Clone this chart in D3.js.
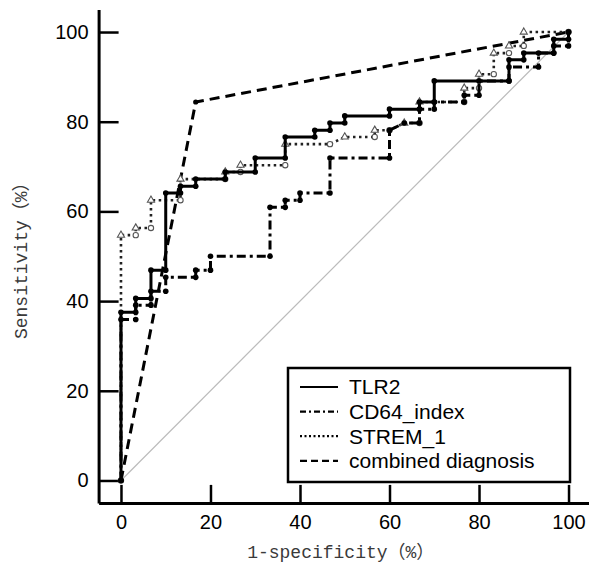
<!DOCTYPE html>
<html>
<head>
<meta charset="utf-8">
<script src="https://cdn.jsdelivr.net/npm/d3@7"></script>
<style>
  html, body { margin: 0; padding: 0; background: #fff; }
  svg { display: block; }
</style>
</head>
<body>
<svg id="chart" width="589" height="562"></svg>
<script>
// ---------- data (ROC curve vertices: [1-specificity %, sensitivity %]) ----------
const seriesNames = ["TLR2", "CD64_index", "STREM_1", "combined diagnosis"];

const tlr2 = [[0,0],[0,37.5],[3.3,37.5],[3.3,40.6],[6.7,40.6],[6.7,46.9],[10,46.9],[10,64.1],
  [13.3,64.1],[13.3,65.6],[16.7,65.6],[16.7,67.2],[23.3,67.2],[23.3,68.8],[30,68.8],[30,71.9],
  [36.7,71.9],[36.7,76.6],[43.3,76.6],[43.3,78.1],[46.7,78.1],[46.7,79.7],[50,79.7],[50,81.3],
  [60,81.3],[60,82.8],[66.7,82.8],[66.7,84.4],[70,84.4],[70,89.1],[86.7,89.1],[86.7,93.8],
  [90,93.8],[90,95.3],[96.7,95.3],[96.7,98.4],[100,98.4],[100,100]];

const cd64 = [[0,0],[0,35.9],[3.3,35.9],[3.3,39.1],[6.7,39.1],[6.7,42.2],[10,42.2],[10,45.3],
  [16.7,45.3],[16.7,46.9],[20,46.9],[20,50],[33.3,50],[33.3,60.9],[36.7,60.9],[36.7,62.5],
  [40,62.5],[40,64.1],[46.7,64.1],[46.7,71.9],[60,71.9],[60,78.1],[63.3,79.7],[66.7,79.7],
  [66.7,82.8],[70,82.8],[70,84.4],[76.7,84.4],[76.7,85.9],[80,85.9],[80,89.1],[86.7,89.1],
  [86.7,92.2],[93.3,92.2],[93.3,95.3],[96.7,95.3],[96.7,96.9],[100,96.9],[100,100]];

const strem1 = [[0,0],[0,54.7],[3.3,54.7],[3.3,56.3],[6.7,56.3],[6.7,62.5],[13.3,62.5],[13.3,67.2],
  [23.3,67.2],[23.3,68.8],[26.7,68.8],[26.7,70.3],[36.7,70.3],[36.7,75],[46.7,75],[50,76.6],
  [56.7,76.6],[56.7,78.1],[60,78.1],[63.3,79.7],[66.7,79.7],[66.7,84.4],[76.7,84.4],[76.7,87.5],
  [80,87.5],[80,90.6],[83.3,90.6],[83.3,95.3],[86.7,95.3],[86.7,96.9],[90,96.9],[90,100],[100,100]];

const combined = [[0,0],[16.7,84.4],[100,100]];

const reference = [[0,0],[100,100]];

const xTicks = [0, 20, 40, 60, 80, 100];
const yTicks = [0, 20, 40, 60, 80, 100];
const xTitle = "1-specificity（%）";
const yTitle = "Sensitivity（%）";

// ---------- chart ----------
const svg = d3.select("#chart");

const x = d3.scaleLinear().domain([-5, 105]).range([98.6, 590.9]);
const y = d3.scaleLinear().domain([-5, 105]).range([502.9, 9.6]);

// axes
const xAxis = d3.axisBottom(x).tickValues(xTicks).tickSize(-18).tickSizeOuter(0).tickPadding(12);
const yAxis = d3.axisLeft(y).tickValues(yTicks).tickSize(-20).tickSizeOuter(0).tickPadding(10);

const gx = svg.append("g").attr("transform", `translate(0,${y(-5)})`).call(xAxis);
const gy = svg.append("g").attr("transform", `translate(${x(-5)},0)`).call(yAxis);

[gx, gy].forEach(g => {
  g.select(".domain").attr("stroke", "#000").attr("stroke-width", 3);
  g.selectAll(".tick line").attr("stroke", "#000").attr("stroke-width", 2.5);
  g.selectAll(".tick text")
    .attr("fill", "#000")
    .style("font-family", "'Liberation Sans', Arial, sans-serif")
    .style("font-size", "20px");
});

// axis titles
svg.append("text")
  .attr("x", x(50) - 4).attr("y", 558)
  .attr("text-anchor", "middle")
  .attr("fill", "#3a3a3a")
  .style("font-family", "'Liberation Mono', 'Noto Sans CJK SC', monospace")
  .style("font-size", "18px")
  .text(xTitle);

svg.append("text")
  .attr("transform", `translate(27,${y(50)}) rotate(-90)`)
  .attr("text-anchor", "middle")
  .attr("fill", "#3a3a3a")
  .style("font-family", "'Liberation Mono', 'Noto Sans CJK SC', monospace")
  .style("font-size", "18px")
  .text(yTitle);

// reference diagonal
const line = d3.line().x(d => x(d[0])).y(d => y(d[1]));
svg.append("path").datum(reference).attr("d", line)
  .attr("fill", "none").attr("stroke", "#bbb").attr("stroke-width", 1.2);

const styles = [
  { data: tlr2,     dash: null,        width: 3,   color: "#000", marker: "fill" },
  { data: cd64,     dash: "9,4,3,4",   width: 3,   color: "#000", marker: "fill" },
  { data: strem1,   dash: "2.5,3.5",   width: 2.6, color: "#222", marker: "open" },
  { data: combined, dash: "10,6",      width: 3,   color: "#000", marker: "fill" }
];

// draw order: combined, strem, cd64, tlr2
[3, 2, 1, 0].forEach(i => {
  const s = styles[i];
  const g = svg.append("g");
  g.append("path").datum(s.data).attr("d", line)
    .attr("fill", "none").attr("stroke", s.color)
    .attr("stroke-width", s.width)
    .attr("stroke-dasharray", s.dash);
  if (s.marker === "fill") {
    g.selectAll("circle").data(i === 3 ? s.data.slice(1) : s.data).join("circle")
      .attr("cx", d => x(d[0])).attr("cy", d => y(d[1]))
      .attr("r", i === 3 ? 2.6 : 2.8).attr("fill", "#000");
  } else {
    const sym = d3.symbol().size(22);
    g.selectAll("path.m").data(s.data).join("path").attr("class", "m")
      .attr("transform", d => `translate(${x(d[0])},${y(d[1])})`)
      .attr("d", (d, k) => sym.type(k % 2 ? d3.symbolTriangle : d3.symbolCircle)())
      .attr("fill", "#fff").attr("stroke", "#555").attr("stroke-width", 1.1);
  }
});

// legend
const lg = svg.append("g");
lg.append("rect").attr("x", 288).attr("y", 368).attr("width", 282).attr("height", 114)
  .attr("fill", "#fff").attr("stroke", "#000").attr("stroke-width", 2.5);
const legendDash = [null, "6,3,2,3", "2,2.5", "7,4"];
seriesNames.forEach((name, i) => {
  const cy = 387 + i * 24.6;
  lg.append("line").attr("x1", 300).attr("x2", 338).attr("y1", cy).attr("y2", cy)
    .attr("stroke", "#000").attr("stroke-width", 2.2)
    .attr("stroke-dasharray", legendDash[i]);
  lg.append("text").attr("x", 349).attr("y", cy).attr("dy", "0.35em")
    .style("font-family", "'Liberation Sans', Arial, sans-serif")
    .style("font-size", "21px")
    .attr("fill", "#000")
    .text(name);
});
</script>
</body>
</html>
